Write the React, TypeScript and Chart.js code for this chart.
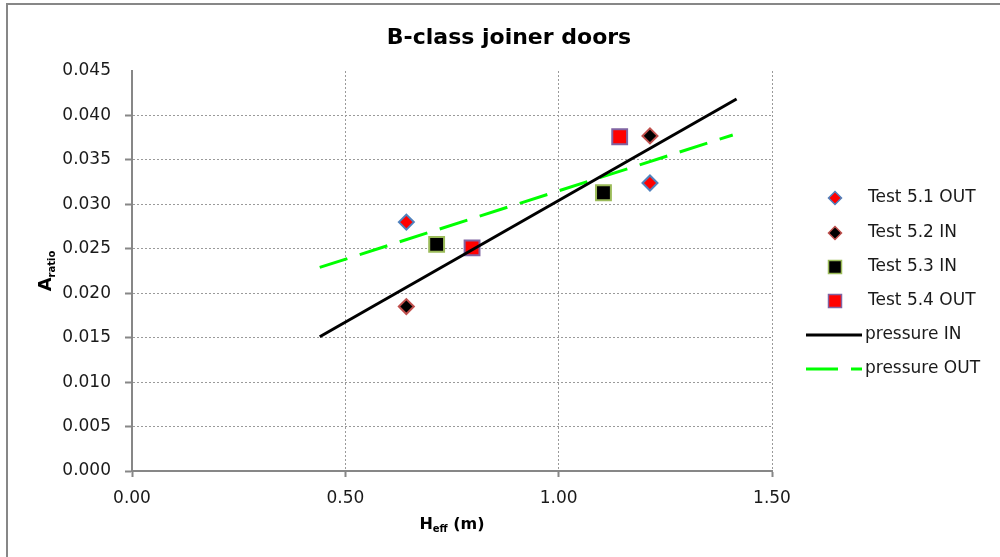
import React, { useEffect, useRef } from "react";
import { Chart, registerables } from "chart.js";

Chart.register(...registerables);

// ---- Data ----
const titleText = "B-class joiner doors";
const seriesNames = ["Test 5.1 OUT", "Test 5.2 IN", "Test 5.3 IN", "Test 5.4 OUT", "pressure IN", "pressure OUT"];

const test51X = [0.643, 1.214];
const test51Y = [0.028, 0.0324];
const test52X = [0.643, 1.214];
const test52Y = [0.0185, 0.0377];
const test53X = [0.714, 1.105];
const test53Y = [0.0255, 0.0313];
const test54X = [0.797, 1.143];
const test54Y = [0.0251, 0.0376];
const pressureInX = [0.44, 1.417];
const pressureInY = [0.0151, 0.04185];
const pressureOutX = [0.44, 1.408];
const pressureOutY = [0.0229, 0.0378];

const xMin = 0;
const xMax = 1.5;
const xStep = 0.5;
const yMin = 0;
const yMax = 0.045;
const yStep = 0.005;

const TICK_FONT = "DejaVu Sans";
const TEXT_COLOR = "#1a1a1a";
const AXIS_COLOR = "#878787";
const GRID_COLOR = "#9a9a9a";

function pts(xs: number[], ys: number[]) {
  return xs.map((x, i) => ({ x, y: ys[i] }));
}

export default function App() {
  const ref = useRef<HTMLCanvasElement | null>(null);

  useEffect(() => {
    const canvas = ref.current;
    if (!canvas) return;

    const drawDiamond = (ctx: CanvasRenderingContext2D, x: number, y: number, r: number, fill: string, stroke: string) => {
      ctx.beginPath();
      ctx.moveTo(x - r, y);
      ctx.lineTo(x, y - r);
      ctx.lineTo(x + r, y);
      ctx.lineTo(x, y + r);
      ctx.closePath();
      ctx.fillStyle = fill;
      ctx.fill();
      ctx.lineWidth = 1.5;
      ctx.strokeStyle = stroke;
      ctx.stroke();
    };
    const drawSquare = (ctx: CanvasRenderingContext2D, x: number, y: number, h: number, fill: string, stroke: string) => {
      ctx.fillStyle = fill;
      ctx.fillRect(x - h, y - h, 2 * h, 2 * h);
      ctx.lineWidth = 1.5;
      ctx.strokeStyle = stroke;
      ctx.strokeRect(x - h, y - h, 2 * h, 2 * h);
    };

    const decor = {
      id: "decor",
      afterDraw(chart: any) {
        const ctx: CanvasRenderingContext2D = chart.ctx;
        const area = chart.chartArea;
        ctx.save();

        // outer frame (top + left)
        ctx.strokeStyle = AXIS_COLOR;
        ctx.lineWidth = 2;
        ctx.beginPath();
        ctx.moveTo(7, 557);
        ctx.lineTo(7, 4);
        ctx.lineTo(1000, 4);
        ctx.stroke();

        // title
        ctx.fillStyle = "#000";
        ctx.font = `bold 22px ${TICK_FONT}`;
        ctx.textAlign = "center";
        ctx.textBaseline = "middle";
        ctx.fillText(titleText, 509, 38);

        // x axis title: H_eff (m)
        const cx = (area.left + area.right) / 2;
        ctx.textAlign = "left";
        ctx.textBaseline = "alphabetic";
        ctx.font = `bold 16px ${TICK_FONT}`;
        const wH = ctx.measureText("H").width;
        const wRest = ctx.measureText(" (m)").width;
        ctx.font = `bold 10px ${TICK_FONT}`;
        const wSub = ctx.measureText("eff").width;
        let sx = cx - (wH + wSub + wRest) / 2;
        const by = 529;
        ctx.font = `bold 16px ${TICK_FONT}`;
        ctx.fillText("H", sx, by);
        sx += wH;
        ctx.font = `bold 10px ${TICK_FONT}`;
        ctx.fillText("eff", sx, by + 3);
        sx += wSub;
        ctx.font = `bold 16px ${TICK_FONT}`;
        ctx.fillText(" (m)", sx, by);

        // y axis title: A_ratio (rotated)
        ctx.save();
        const cy = (area.top + area.bottom) / 2;
        ctx.translate(51, cy);
        ctx.rotate(-Math.PI / 2);
        ctx.font = `bold 18px ${TICK_FONT}`;
        const wA = ctx.measureText("A").width;
        ctx.font = `bold 10px ${TICK_FONT}`;
        const wR = ctx.measureText("ratio").width;
        let ax = -(wA + wR) / 2;
        ctx.font = `bold 18px ${TICK_FONT}`;
        ctx.fillText("A", ax, 0);
        ax += wA;
        ctx.font = `bold 10px ${TICK_FONT}`;
        ctx.fillText("ratio", ax, 4);
        ctx.restore();

        // legend
        const ly = [198, 233, 267, 301, 335, 369];
        const mx = 835;
        drawDiamond(ctx, mx, ly[0], 6.5, "#ff0000", "#4f81bd");
        drawDiamond(ctx, mx, ly[1], 6.5, "#000000", "#c0504d");
        drawSquare(ctx, mx, ly[2], 6.5, "#000000", "#9bbb59");
        drawSquare(ctx, mx, ly[3], 6.5, "#ff0000", "#8064a2");
        ctx.lineWidth = 3;
        ctx.strokeStyle = "#000000";
        ctx.beginPath();
        ctx.moveTo(806, ly[4]);
        ctx.lineTo(862, ly[4]);
        ctx.stroke();
        ctx.strokeStyle = "#00ff00";
        ctx.beginPath();
        ctx.moveTo(806, ly[5]);
        ctx.lineTo(838, ly[5]);
        ctx.moveTo(851, ly[5]);
        ctx.lineTo(862, ly[5]);
        ctx.stroke();

        ctx.fillStyle = TEXT_COLOR;
        ctx.font = `17px ${TICK_FONT}`;
        ctx.textAlign = "left";
        ctx.textBaseline = "middle";
        seriesNames.forEach((n, i) => {
          const tx = i >= 4 ? 865 : 868;
          ctx.fillText(n, tx, ly[i]);
        });

        ctx.restore();
      },
    };

    const chart = new Chart(canvas, {
      type: "scatter",
      data: {
        datasets: [
          {
            label: seriesNames[4],
            data: pts(pressureInX, pressureInY),
            showLine: true,
            borderColor: "#000000",
            borderWidth: 3,
            pointRadius: 0,
            order: 0,
          },
          {
            label: seriesNames[5],
            data: pts(pressureOutX, pressureOutY),
            showLine: true,
            borderColor: "#00ff00",
            borderWidth: 3,
            borderDash: [29, 13],
            pointRadius: 0,
            order: 1,
          },
          {
            label: seriesNames[0],
            data: pts(test51X, test51Y),
            pointStyle: "rectRot",
            pointRadius: 7.5,
            backgroundColor: "#ff0000",
            borderColor: "#4f81bd",
            borderWidth: 2,
            order: 2,
          },
          {
            label: seriesNames[1],
            data: pts(test52X, test52Y),
            pointStyle: "rectRot",
            pointRadius: 7.5,
            backgroundColor: "#000000",
            borderColor: "#c0504d",
            borderWidth: 2,
            order: 2,
          },
          {
            label: seriesNames[2],
            data: pts(test53X, test53Y),
            pointStyle: "rect",
            pointRadius: 10.5,
            backgroundColor: "#000000",
            borderColor: "#9bbb59",
            borderWidth: 2,
            order: 2,
          },
          {
            label: seriesNames[3],
            data: pts(test54X, test54Y),
            pointStyle: "rect",
            pointRadius: 10.5,
            backgroundColor: "#ff0000",
            borderColor: "#8064a2",
            borderWidth: 2,
            order: 2,
          },
        ],
      },
      options: {
        animation: false,
        responsive: false,
        devicePixelRatio: 1,
        layout: { padding: { top: 71, right: 228, bottom: 0, left: 0 } },
        plugins: {
          legend: { display: false },
          title: { display: false },
          tooltip: { enabled: false },
        },
        scales: {
          x: {
            type: "linear",
            min: xMin,
            max: xMax,
            ticks: {
              stepSize: xStep,
              padding: 11,
              color: TEXT_COLOR,
              font: { family: TICK_FONT, size: 17 },
              callback: (v: any) => Number(v).toFixed(2),
            },
            grid: {
              color: (c: any) => (c.tick && c.tick.value === xMin ? "rgba(0,0,0,0)" : GRID_COLOR),
              lineWidth: 1,
              tickLength: 6,
              tickColor: AXIS_COLOR,
              tickWidth: 2,
            },
            border: { display: true, color: AXIS_COLOR, width: 2, dash: [2, 2] },
            afterFit: (s: any) => {
              s.height = 86;
            },
          },
          y: {
            type: "linear",
            min: yMin,
            max: yMax,
            ticks: {
              stepSize: yStep,
              padding: 14,
              color: TEXT_COLOR,
              font: { family: TICK_FONT, size: 17 },
              callback: (v: any) => Number(v).toFixed(3),
            },
            grid: {
              color: (c: any) =>
                c.tick && (Math.abs(c.tick.value - yMax) < 1e-9 || Math.abs(c.tick.value - yMin) < 1e-9)
                  ? "rgba(0,0,0,0)"
                  : GRID_COLOR,
              lineWidth: 1,
              tickLength: 7,
              tickColor: (c: any) =>
                c.tick && Math.abs(c.tick.value - yMax) < 1e-9 ? "rgba(0,0,0,0)" : AXIS_COLOR,
              tickWidth: 2,
            },
            border: { display: true, color: AXIS_COLOR, width: 2, dash: [2, 2] },
            afterFit: (s: any) => {
              s.width = 132;
            },
          },
        },
      },
      plugins: [decor],
    } as any);

    return () => chart.destroy();
  }, []);

  return (
    <canvas
      ref={ref}
      width={1000}
      height={557}
      style={{ position: "fixed", left: 0, top: 0, width: 1000, height: 557, background: "#fff" }}
    />
  );
}
